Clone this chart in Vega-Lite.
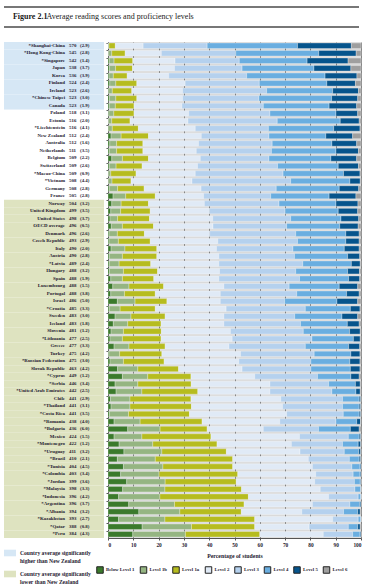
{
  "$schema": "https://vega.github.io/schema/vega-lite/v6.json",
  "padding": {"left": 3, "top": 6, "right": 0, "bottom": 0},
  "background": "white",
  "config": {
    "font": "Liberation Sans Narrow",
    "view": {"stroke": null},
    "legend": {"labelFont": "Liberation Sans Narrow", "labelFontSize": 5.6, "labelFontWeight": "bold", "labelColor": "#1e2030"}
  },
  "datasets": {
    "rows": [
      {"c": "*Shanghai-China", "s": 570, "e": 2.9, "g": "higher", "Below Level 1": 0.1, "Level 1b": 0.3, "Level 1a": 2.5, "Level 2": 11.0, "Level 3": 25.3, "Level 4": 35.7, "Level 5": 21.3, "Level 6": 3.8},
      {"c": "*Hong Kong-China", "s": 545, "e": 2.8, "g": "higher", "Below Level 1": 0.2, "Level 1b": 1.3, "Level 1a": 5.3, "Level 2": 14.3, "Level 3": 29.4, "Level 4": 32.8, "Level 5": 14.8, "Level 6": 1.9},
      {"c": "*Singapore", "s": 542, "e": 1.4, "g": "higher", "Below Level 1": 0.5, "Level 1b": 1.9, "Level 1a": 7.4, "Level 2": 16.7, "Level 3": 25.4, "Level 4": 26.8, "Level 5": 16.2, "Level 6": 5.1},
      {"c": "Japan", "s": 538, "e": 3.7, "g": "higher", "Below Level 1": 0.6, "Level 1b": 2.4, "Level 1a": 6.7, "Level 2": 16.6, "Level 3": 26.7, "Level 4": 28.4, "Level 5": 14.6, "Level 6": 4.0},
      {"c": "Korea", "s": 536, "e": 3.9, "g": "higher", "Below Level 1": 0.4, "Level 1b": 1.7, "Level 1a": 5.5, "Level 2": 16.4, "Level 3": 30.8, "Level 4": 31.0, "Level 5": 12.6, "Level 6": 1.6},
      {"c": "Finland", "s": 524, "e": 2.4, "g": "higher", "Below Level 1": 0.7, "Level 1b": 2.4, "Level 1a": 8.3, "Level 2": 19.1, "Level 3": 29.3, "Level 4": 26.7, "Level 5": 11.3, "Level 6": 2.2},
      {"c": "Ireland", "s": 523, "e": 2.6, "g": "higher", "Below Level 1": 0.3, "Level 1b": 1.4, "Level 1a": 7.7, "Level 2": 20.1, "Level 3": 33.2, "Level 4": 26.1, "Level 5": 10.2, "Level 6": 1.0},
      {"c": "*Chinese Taipei", "s": 523, "e": 3.0, "g": "higher", "Below Level 1": 0.6, "Level 1b": 2.5, "Level 1a": 8.3, "Level 2": 18.1, "Level 3": 30.1, "Level 4": 28.8, "Level 5": 10.3, "Level 6": 1.3},
      {"c": "Canada", "s": 523, "e": 1.9, "g": "higher", "Below Level 1": 0.5, "Level 1b": 2.4, "Level 1a": 7.4, "Level 2": 18.9, "Level 3": 32.2, "Level 4": 26.0, "Level 5": 10.9, "Level 6": 1.7},
      {"c": "Poland", "s": 518, "e": 3.1, "g": "similar", "Below Level 1": 0.3, "Level 1b": 2.0, "Level 1a": 8.0, "Level 2": 21.6, "Level 3": 32.1, "Level 4": 26.1, "Level 5": 8.6, "Level 6": 1.3},
      {"c": "Estonia", "s": 516, "e": 2.0, "g": "similar", "Below Level 1": 0.2, "Level 1b": 1.3, "Level 1a": 7.2, "Level 2": 22.9, "Level 3": 35.3, "Level 4": 24.9, "Level 5": 7.5, "Level 6": 0.7},
      {"c": "*Liechtenstein", "s": 516, "e": 4.1, "g": "similar", "Below Level 1": 0.0, "Level 1b": 1.7, "Level 1a": 10.3, "Level 2": 22.5, "Level 3": 28.9, "Level 4": 25.8, "Level 5": 10.4, "Level 6": 0.4},
      {"c": "New Zealand", "s": 512, "e": 2.4, "g": "similar", "Below Level 1": 1.2, "Level 1b": 4.0, "Level 1a": 10.8, "Level 2": 20.9, "Level 3": 26.7, "Level 4": 22.5, "Level 5": 10.6, "Level 6": 3.3},
      {"c": "Australia", "s": 512, "e": 1.6, "g": "similar", "Below Level 1": 0.7, "Level 1b": 2.7, "Level 1a": 10.4, "Level 2": 22.0, "Level 3": 29.1, "Level 4": 23.6, "Level 5": 9.8, "Level 6": 1.7},
      {"c": "Netherlands", "s": 511, "e": 3.5, "g": "similar", "Below Level 1": 0.5, "Level 1b": 2.9, "Level 1a": 10.4, "Level 2": 21.1, "Level 3": 29.7, "Level 4": 25.5, "Level 5": 8.9, "Level 6": 1.0},
      {"c": "Belgium", "s": 509, "e": 2.2, "g": "similar", "Below Level 1": 1.5, "Level 1b": 4.2, "Level 1a": 10.3, "Level 2": 20.5, "Level 3": 27.1, "Level 4": 24.5, "Level 5": 10.2, "Level 6": 1.7},
      {"c": "Switzerland", "s": 509, "e": 2.6, "g": "similar", "Below Level 1": 0.5, "Level 1b": 2.7, "Level 1a": 10.3, "Level 2": 21.9, "Level 3": 31.6, "Level 4": 24.0, "Level 5": 8.0, "Level 6": 1.0},
      {"c": "*Macao-China", "s": 509, "e": 0.9, "g": "similar", "Below Level 1": 0.1, "Level 1b": 1.0, "Level 1a": 10.0, "Level 2": 23.4, "Level 3": 34.7, "Level 4": 23.9, "Level 5": 6.5, "Level 6": 0.4},
      {"c": "*Vietnam", "s": 508, "e": 4.4, "g": "similar", "Below Level 1": 0.1, "Level 1b": 1.5, "Level 1a": 7.5, "Level 2": 24.1, "Level 3": 39.0, "Level 4": 23.4, "Level 5": 4.1, "Level 6": 0.3},
      {"c": "Germany", "s": 508, "e": 2.8, "g": "similar", "Below Level 1": 0.5, "Level 1b": 3.3, "Level 1a": 10.5, "Level 2": 22.5, "Level 3": 29.7, "Level 4": 24.9, "Level 5": 7.7, "Level 6": 0.9},
      {"c": "France", "s": 505, "e": 2.8, "g": "similar", "Below Level 1": 2.0, "Level 1b": 5.0, "Level 1a": 11.7, "Level 2": 19.1, "Level 3": 26.5, "Level 4": 23.1, "Level 5": 10.6, "Level 6": 2.0},
      {"c": "Norway", "s": 504, "e": 3.2, "g": "lower", "Below Level 1": 1.5, "Level 1b": 3.7, "Level 1a": 10.8, "Level 2": 22.1, "Level 3": 29.5, "Level 4": 22.5, "Level 5": 8.7, "Level 6": 1.2},
      {"c": "United Kingdom", "s": 499, "e": 3.5, "g": "lower", "Below Level 1": 1.1, "Level 1b": 3.9, "Level 1a": 11.7, "Level 2": 23.4, "Level 3": 29.9, "Level 4": 21.0, "Level 5": 7.7, "Level 6": 1.3},
      {"c": "United States", "s": 498, "e": 3.7, "g": "lower", "Below Level 1": 0.8, "Level 1b": 3.0, "Level 1a": 12.6, "Level 2": 25.0, "Level 3": 30.8, "Level 4": 19.9, "Level 5": 7.0, "Level 6": 0.9},
      {"c": "OECD average", "s": 496, "e": 0.5, "g": "lower", "Below Level 1": 1.3, "Level 1b": 4.4, "Level 1a": 12.3, "Level 2": 23.5, "Level 3": 29.1, "Level 4": 21.0, "Level 5": 7.3, "Level 6": 1.1},
      {"c": "Denmark", "s": 496, "e": 2.6, "g": "lower", "Below Level 1": 0.4, "Level 1b": 3.3, "Level 1a": 10.7, "Level 2": 25.8, "Level 3": 34.0, "Level 4": 19.8, "Level 5": 5.3, "Level 6": 0.7},
      {"c": "Czech Republic", "s": 493, "e": 2.9, "g": "lower", "Below Level 1": 0.4, "Level 1b": 3.7, "Level 1a": 12.6, "Level 2": 26.7, "Level 3": 31.5, "Level 4": 19.1, "Level 5": 5.3, "Level 6": 0.7},
      {"c": "Italy", "s": 490, "e": 2.0, "g": "lower", "Below Level 1": 1.2, "Level 1b": 5.5, "Level 1a": 12.6, "Level 2": 23.6, "Level 3": 30.2, "Level 4": 20.3, "Level 5": 5.9, "Level 6": 0.7},
      {"c": "Austria", "s": 490, "e": 2.8, "g": "lower", "Below Level 1": 0.5, "Level 1b": 5.2, "Level 1a": 13.6, "Level 2": 24.5, "Level 3": 29.9, "Level 4": 21.0, "Level 5": 4.8, "Level 6": 0.5},
      {"c": "*Latvia", "s": 489, "e": 2.4, "g": "lower", "Below Level 1": 0.5, "Level 1b": 3.9, "Level 1a": 12.5, "Level 2": 26.9, "Level 3": 33.2, "Level 4": 19.2, "Level 5": 3.5, "Level 6": 0.3},
      {"c": "Hungary", "s": 488, "e": 3.2, "g": "lower", "Below Level 1": 0.6, "Level 1b": 5.5, "Level 1a": 13.5, "Level 2": 24.5, "Level 3": 30.1, "Level 4": 20.5, "Level 5": 4.7, "Level 6": 0.6},
      {"c": "Spain", "s": 488, "e": 1.9, "g": "lower", "Below Level 1": 1.1, "Level 1b": 4.6, "Level 1a": 12.4, "Level 2": 25.7, "Level 3": 31.9, "Level 4": 19.4, "Level 5": 4.4, "Level 6": 0.5},
      {"c": "Luxembourg", "s": 488, "e": 1.5, "g": "lower", "Below Level 1": 1.9, "Level 1b": 6.4, "Level 1a": 13.7, "Level 2": 23.8, "Level 3": 25.8, "Level 4": 19.8, "Level 5": 7.3, "Level 6": 1.3},
      {"c": "Portugal", "s": 488, "e": 3.8, "g": "lower", "Below Level 1": 1.1, "Level 1b": 5.4, "Level 1a": 12.2, "Level 2": 25.7, "Level 3": 30.2, "Level 4": 19.7, "Level 5": 5.0, "Level 6": 0.7},
      {"c": "Israel", "s": 486, "e": 5.0, "g": "lower", "Below Level 1": 3.7, "Level 1b": 7.0, "Level 1a": 12.6, "Level 2": 21.1, "Level 3": 25.4, "Level 4": 20.7, "Level 5": 8.2, "Level 6": 1.3},
      {"c": "*Croatia", "s": 485, "e": 3.3, "g": "lower", "Below Level 1": 0.5, "Level 1b": 4.3, "Level 1a": 13.9, "Level 2": 28.0, "Level 3": 31.3, "Level 4": 17.8, "Level 5": 3.8, "Level 6": 0.4},
      {"c": "Sweden", "s": 483, "e": 3.0, "g": "lower", "Below Level 1": 2.8, "Level 1b": 6.3, "Level 1a": 13.5, "Level 2": 23.2, "Level 3": 28.0, "Level 4": 18.7, "Level 5": 6.2, "Level 6": 1.3},
      {"c": "Iceland", "s": 483, "e": 1.8, "g": "lower", "Below Level 1": 2.1, "Level 1b": 5.7, "Level 1a": 13.2, "Level 2": 24.8, "Level 3": 30.3, "Level 4": 18.5, "Level 5": 4.7, "Level 6": 0.7},
      {"c": "Slovenia", "s": 481, "e": 1.2, "g": "lower", "Below Level 1": 1.2, "Level 1b": 4.9, "Level 1a": 15.0, "Level 2": 27.3, "Level 3": 28.8, "Level 4": 18.3, "Level 5": 4.2, "Level 6": 0.3},
      {"c": "*Lithuania", "s": 477, "e": 2.5, "g": "lower", "Below Level 1": 0.8, "Level 1b": 4.9, "Level 1a": 15.3, "Level 2": 28.1, "Level 3": 31.5, "Level 4": 16.4, "Level 5": 2.7, "Level 6": 0.3},
      {"c": "Greece", "s": 477, "e": 3.3, "g": "lower", "Below Level 1": 2.4, "Level 1b": 5.9, "Level 1a": 14.3, "Level 2": 25.2, "Level 3": 30.2, "Level 4": 17.1, "Level 5": 4.4, "Level 6": 0.5},
      {"c": "Turkey", "s": 475, "e": 4.2, "g": "lower", "Below Level 1": 0.3, "Level 1b": 4.3, "Level 1a": 16.7, "Level 2": 31.1, "Level 3": 29.1, "Level 4": 14.5, "Level 5": 3.6, "Level 6": 0.4},
      {"c": "*Russian Federation", "s": 475, "e": 3.0, "g": "lower", "Below Level 1": 0.8, "Level 1b": 5.3, "Level 1a": 16.1, "Level 2": 29.5, "Level 3": 28.5, "Level 4": 15.4, "Level 5": 4.0, "Level 6": 0.4},
      {"c": "Slovak Republic", "s": 463, "e": 4.2, "g": "lower", "Below Level 1": 3.8, "Level 1b": 8.0, "Level 1a": 16.1, "Level 2": 25.1, "Level 3": 27.2, "Level 4": 15.6, "Level 5": 3.8, "Level 6": 0.4},
      {"c": "*Cyprus", "s": 449, "e": 1.2, "g": "lower", "Below Level 1": 5.7, "Level 1b": 10.0, "Level 1a": 17.1, "Level 2": 25.2, "Level 3": 24.8, "Level 4": 13.2, "Level 5": 3.3, "Level 6": 0.7},
      {"c": "*Serbia", "s": 446, "e": 3.4, "g": "lower", "Below Level 1": 2.8, "Level 1b": 9.0, "Level 1a": 21.1, "Level 2": 31.1, "Level 3": 23.2, "Level 4": 10.6, "Level 5": 1.9, "Level 6": 0.3},
      {"c": "*United Arab Emirates", "s": 442, "e": 2.5, "g": "lower", "Below Level 1": 3.2, "Level 1b": 10.2, "Level 1a": 22.1, "Level 2": 28.5, "Level 3": 24.5, "Level 4": 9.5, "Level 5": 1.7, "Level 6": 0.3},
      {"c": "Chile", "s": 441, "e": 2.9, "g": "lower", "Below Level 1": 1.0, "Level 1b": 7.7, "Level 1a": 24.1, "Level 2": 35.5, "Level 3": 24.4, "Level 4": 6.6, "Level 5": 0.6, "Level 6": 0.1},
      {"c": "*Thailand", "s": 441, "e": 3.1, "g": "lower", "Below Level 1": 1.2, "Level 1b": 7.5, "Level 1a": 24.3, "Level 2": 36.0, "Level 3": 23.7, "Level 4": 6.6, "Level 5": 0.6, "Level 6": 0.1},
      {"c": "*Costa Rica", "s": 441, "e": 3.5, "g": "lower", "Below Level 1": 0.6, "Level 1b": 7.5, "Level 1a": 24.1, "Level 2": 38.4, "Level 3": 22.4, "Level 4": 6.3, "Level 5": 0.6, "Level 6": 0.1},
      {"c": "*Romania", "s": 438, "e": 4.0, "g": "lower", "Below Level 1": 2.4, "Level 1b": 10.3, "Level 1a": 24.5, "Level 2": 30.7, "Level 3": 22.2, "Level 4": 8.2, "Level 5": 1.5, "Level 6": 0.2},
      {"c": "*Bulgaria", "s": 436, "e": 6.0, "g": "lower", "Below Level 1": 7.8, "Level 1b": 12.8, "Level 1a": 18.6, "Level 2": 22.2, "Level 3": 21.8, "Level 4": 12.6, "Level 5": 3.5, "Level 6": 0.7},
      {"c": "Mexico", "s": 424, "e": 1.5, "g": "lower", "Below Level 1": 2.4, "Level 1b": 11.0, "Level 1a": 27.3, "Level 2": 35.0, "Level 3": 19.3, "Level 4": 4.3, "Level 5": 0.6, "Level 6": 0.1},
      {"c": "*Montenegro", "s": 422, "e": 1.2, "g": "lower", "Below Level 1": 4.4, "Level 1b": 13.3, "Level 1a": 25.4, "Level 2": 29.4, "Level 3": 20.2, "Level 4": 6.2, "Level 5": 1.0, "Level 6": 0.1},
      {"c": "*Uruguay", "s": 411, "e": 3.2, "g": "lower", "Below Level 1": 6.3, "Level 1b": 15.0, "Level 1a": 25.5, "Level 2": 29.1, "Level 3": 17.5, "Level 4": 5.7, "Level 5": 0.8, "Level 6": 0.1},
      {"c": "*Brazil", "s": 410, "e": 2.1, "g": "lower", "Below Level 1": 3.7, "Level 1b": 15.0, "Level 1a": 30.6, "Level 2": 29.9, "Level 3": 16.2, "Level 4": 3.9, "Level 5": 0.6, "Level 6": 0.1},
      {"c": "*Tunisia", "s": 404, "e": 4.5, "g": "lower", "Below Level 1": 6.1, "Level 1b": 15.6, "Level 1a": 27.6, "Level 2": 31.5, "Level 3": 15.6, "Level 4": 3.2, "Level 5": 0.4, "Level 6": 0.0},
      {"c": "*Colombia", "s": 403, "e": 3.4, "g": "lower", "Below Level 1": 5.0, "Level 1b": 15.2, "Level 1a": 31.1, "Level 2": 30.8, "Level 3": 14.8, "Level 4": 2.7, "Level 5": 0.4, "Level 6": 0.0},
      {"c": "*Jordan", "s": 399, "e": 3.6, "g": "lower", "Below Level 1": 7.4, "Level 1b": 15.2, "Level 1a": 28.1, "Level 2": 31.0, "Level 3": 15.7, "Level 4": 2.3, "Level 5": 0.3, "Level 6": 0.0},
      {"c": "*Malaysia", "s": 398, "e": 3.3, "g": "lower", "Below Level 1": 5.8, "Level 1b": 16.7, "Level 1a": 30.3, "Level 2": 31.1, "Level 3": 13.7, "Level 4": 2.3, "Level 5": 0.1, "Level 6": 0.0},
      {"c": "*Indonesia", "s": 396, "e": 4.2, "g": "lower", "Below Level 1": 4.2, "Level 1b": 16.3, "Level 1a": 35.0, "Level 2": 31.7, "Level 3": 11.7, "Level 4": 1.1, "Level 5": 0.0, "Level 6": 0.0},
      {"c": "*Argentina", "s": 396, "e": 3.7, "g": "lower", "Below Level 1": 8.2, "Level 1b": 18.1, "Level 1a": 27.5, "Level 2": 27.0, "Level 3": 14.8, "Level 4": 3.9, "Level 5": 0.5, "Level 6": 0.0},
      {"c": "*Albania", "s": 394, "e": 3.2, "g": "lower", "Below Level 1": 12.2, "Level 1b": 16.2, "Level 1a": 24.3, "Level 2": 23.9, "Level 3": 16.5, "Level 4": 5.6, "Level 5": 1.0, "Level 6": 0.3},
      {"c": "*Kazakhstan", "s": 393, "e": 2.7, "g": "lower", "Below Level 1": 4.2, "Level 1b": 18.3, "Level 1a": 35.5, "Level 2": 30.8, "Level 3": 10.1, "Level 4": 1.1, "Level 5": 0.0, "Level 6": 0.0},
      {"c": "*Qatar", "s": 388, "e": 0.8, "g": "lower", "Below Level 1": 13.5, "Level 1b": 19.5, "Level 1a": 25.0, "Level 2": 21.5, "Level 3": 15.5, "Level 4": 3.7, "Level 5": 1.0, "Level 6": 0.3},
      {"c": "*Peru", "s": 384, "e": 4.3, "g": "lower", "Below Level 1": 9.8, "Level 1b": 20.8, "Level 1a": 29.4, "Level 2": 25.1, "Level 3": 11.6, "Level 4": 2.9, "Level 5": 0.4, "Level 6": 0.0}
    ]
  },
  "vconcat": [
    {
      "width": 355,
      "height": 20,
      "data": {"values": [{"a": 1}]},
      "layer": [
        {"mark": {"type": "rule", "stroke": "#4a4a4a", "strokeWidth": 1.5}, "encoding": {"y": {"datum": 1, "type": "quantitative", "scale": {"domain": [0, 1]}, "axis": null}}},
        {"mark": {"type": "rule", "stroke": "#4a4a4a", "strokeWidth": 1.5}, "encoding": {"y": {"datum": 0, "type": "quantitative", "scale": {"domain": [0, 1]}, "axis": null}}},
        {"mark": {"type": "text", "align": "left", "baseline": "middle", "fontWeight": "bold", "fontSize": 8, "color": "#1a1a1a"},
         "encoding": {"x": {"datum": 10, "type": "quantitative", "scale": {"domain": [0, 355]}, "axis": null}, "y": {"datum": 0.5, "type": "quantitative"}, "text": {"value": "Figure 2.1"}}},
        {"mark": {"type": "text", "align": "left", "baseline": "middle", "fontSize": 8, "color": "#1a1a1a"},
         "encoding": {"x": {"datum": 48, "type": "quantitative"}, "y": {"datum": 0.5, "type": "quantitative"}, "text": {"value": "Average reading scores and proficiency levels"}}}
      ]
    },
    {
      "hconcat": [
        {
          "width": 100,
          "height": 496,
          "data": {"name": "rows"},
          "transform": [{"calculate": "'(' + format(datum.e, '.1f') + ')'", "as": "se"}],
          "encoding": {"y": {"field": "c", "type": "nominal", "sort": null, "axis": null, "scale": {"paddingInner": 0, "paddingOuter": 0}}},
          "layer": [
            {"mark": {"type": "rect"},
             "encoding": {
               "x": {"datum": 0, "type": "quantitative", "scale": {"domain": [0, 100]}, "axis": null},
               "x2": {"datum": 100},
               "fill": {"field": "g", "type": "nominal", "scale": {"domain": ["higher", "similar", "lower"], "range": ["#d6e7f5", "#ffffff", "#dee3c0"]},
                 "legend": {"orient": "none", "legendX": 0, "legendY": 540, "title": null, "values": ["higher", "lower"], "symbolType": "M-1,-0.55H1V0.55H-1Z", "symbolSize": 144, "symbolStrokeWidth": 0, "labelExpr": "datum.value == 'higher' ? ['Country average significantly', 'higher than New Zealand'] : ['Country average significantly', 'lower than New Zealand']", "rowPadding": 3, "labelOffset": 4, "labelFontSize": 5.6, "labelLineHeight": 7.5}}
             }},
            {"mark": {"type": "text", "align": "right", "baseline": "middle", "fontSize": 4.9, "fontWeight": "bold", "color": "#1e2030"},
             "encoding": {"x": {"datum": 61, "type": "quantitative"}, "text": {"field": "c"}}},
            {"mark": {"type": "text", "align": "left", "baseline": "middle", "fontSize": 4.9, "fontWeight": "bold", "color": "#1e2030"},
             "encoding": {"x": {"datum": 65, "type": "quantitative"}, "text": {"field": "s"}}},
            {"mark": {"type": "text", "align": "left", "baseline": "middle", "fontSize": 4.9, "fontWeight": "bold", "color": "#1e2030"},
             "encoding": {"x": {"datum": 76, "type": "quantitative"}, "text": {"field": "se"}}}
          ]
        },
        {
          "width": 253,
          "height": 496,
          "view": {"fill": "#dadada", "stroke": null},
          "data": {"name": "rows"},
          "transform": [
            {"fold": ["Below Level 1", "Level 1b", "Level 1a", "Level 2", "Level 3", "Level 4", "Level 5", "Level 6"], "as": ["level", "pct"]},
            {"calculate": "indexof(['Below Level 1', 'Level 1b', 'Level 1a', 'Level 2', 'Level 3', 'Level 4', 'Level 5', 'Level 6'], datum.level)", "as": "ord"}
          ],
          "mark": {"type": "bar", "stroke": "#ffffff", "strokeWidth": 0.3},
          "encoding": {
            "y": {"field": "c", "type": "nominal", "sort": null, "scale": {"paddingInner": 0.27, "paddingOuter": 0.135},
              "axis": {"labels": false, "title": null, "ticks": true, "tickSize": 2, "bandPosition": 0, "domainColor": "#555555", "tickColor": "#555555", "grid": false}},
            "x": {"field": "pct", "type": "quantitative", "stack": "zero", "scale": {"domain": [0, 100], "nice": false, "clamp": true},
              "axis": {"values": [0, 10, 20, 30, 40, 50, 60, 70, 80, 90, 100], "title": "Percentage of students", "titleFont": "Liberation Sans Narrow", "titleFontSize": 5.8, "titleFontWeight": "bold", "titleColor": "#1e2030", "titlePadding": 5,
                "labelFont": "Liberation Sans Narrow", "labelFontSize": 5.4, "labelFontWeight": "bold", "labelColor": "#1e2030", "labelPadding": 2,
                "grid": true, "gridColor": "#666666", "gridWidth": 0.8, "domainColor": "#555555", "tickColor": "#555555", "tickSize": 2}},
            "color": {"field": "level", "type": "nominal",
              "scale": {"domain": ["Below Level 1", "Level 1b", "Level 1a", "Level 2", "Level 3", "Level 4", "Level 5", "Level 6"],
                "range": ["#3b7a2c", "#95b582", "#b6bc1f", "#e0eaf6", "#b5d1ee", "#6aaee0", "#06548c", "#9f9f9f"]},
              "legend": {"orient": "none", "legendX": 92, "legendY": 559, "direction": "horizontal", "title": null, "symbolType": "square", "symbolSize": 42, "symbolStrokeColor": "#222222", "symbolStrokeWidth": 1, "columnPadding": 2.5, "labelOffset": 2, "labelFontSize": 4.8, "gridAlign": "none"}},
            "order": {"field": "ord", "type": "quantitative"}
          }
        }
      ],
      "spacing": 1
    }
  ],
  "spacing": 14
}
